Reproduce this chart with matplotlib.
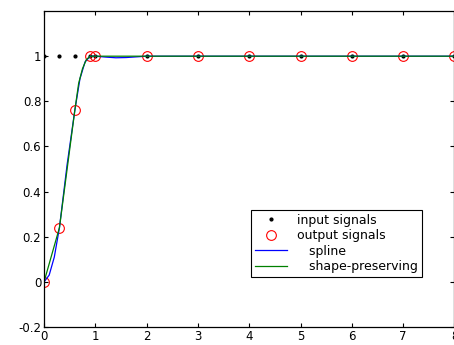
import numpy as np
import matplotlib
matplotlib.use('Agg')
import matplotlib.pyplot as plt

plt.rcParams['font.family'] = ['DejaVu Sans']
plt.rcParams['font.size'] = 8.5

# sample times and signals
t = [0, 0.3, 0.6, 0.9, 1, 2, 3, 4, 5, 6, 7, 8]
u_in = [1, 1, 1, 1, 1, 1, 1, 1, 1, 1, 1, 1]
y_out = [0, 0.24, 0.76, 1, 1, 1, 1, 1, 1, 1, 1, 1]

# curves
spline_x = [0, 0.1, 0.2, 0.3, 0.45, 0.6, 0.7, 0.8, 0.9, 1, 1.2, 1.4, 1.6, 1.8, 2, 2.5, 3, 4, 5, 6, 7, 8]
spline_y = [0, 0.03, 0.11, 0.24, 0.52, 0.76, 0.9, 0.975, 1.0, 1.0, 0.996, 0.993, 0.994, 0.997, 1.0, 1.0, 1.0, 1.0, 1.0, 1.0, 1.0, 1.0]
pchip_x = [0, 0.15, 0.3, 0.45, 0.6, 0.675, 0.75, 0.825, 0.9, 1, 2, 3, 4, 5, 6, 7, 8]
pchip_y = [0, 0.12, 0.24, 0.5, 0.76, 0.88, 0.945, 0.985, 1.0, 1.0, 1.0, 1.0, 1.0, 1.0, 1.0, 1.0, 1.0]

fig = plt.figure(figsize=(4.54, 3.45), dpi=100)
ax = fig.add_axes([0.097, 0.052, 0.904, 0.916])

ax.plot(t, u_in, '.', color='black', markersize=4, label='input signals')
ax.plot(t, y_out, 'o', mfc='none', mec='red', mew=0.8, markersize=7, label='output signals')
ax.plot(spline_x, spline_y, color='blue', lw=0.9, label='   spline')
ax.plot(pchip_x, pchip_y, color='green', lw=0.9, label='   shape-preserving')

ax.set_xlim(0, 8)
ax.set_ylim(-0.2, 1.2)
ax.set_xticks(range(0, 9))
ax.set_yticks([-0.2, 0, 0.2, 0.4, 0.6, 0.8, 1])
ax.set_yticklabels(['-0.2', '0', '0.2', '0.4', '0.6', '0.8', '1'])
ax.tick_params(direction='in', length=3, width=0.8, top=True, right=True, pad=2)
for s in ax.spines.values():
    s.set_linewidth(0.9)

leg = ax.legend(loc='upper left', bbox_to_anchor=(251 / 454, 1 - 210 / 345),
                bbox_transform=fig.transFigure, fancybox=False, edgecolor='black',
                framealpha=1, handlelength=2.6, handletextpad=0.8, borderpad=0.3,
                labelspacing=0.2, borderaxespad=0, fontsize=9)
leg.get_frame().set_linewidth(0.8)

fig.savefig('out.png', dpi=100)
